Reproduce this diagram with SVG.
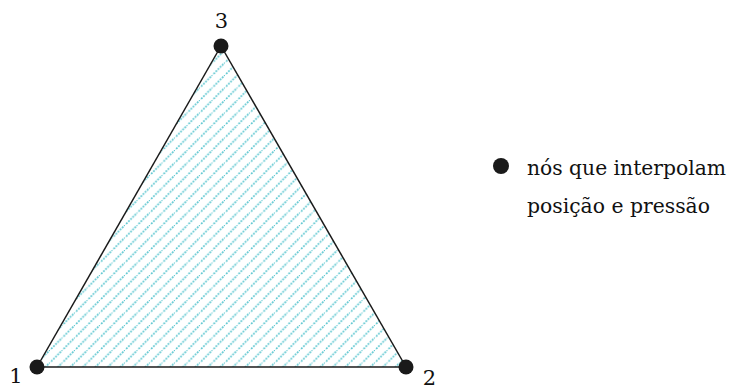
<svg xmlns="http://www.w3.org/2000/svg" width="730" height="388" viewBox="0 0 730 388">
<style>
.edge{stroke:#1a1a1a;stroke-width:1.5;fill:none}
.node{fill:#1a1a1a}
.lbl{font-family:'DejaVu Serif','Liberation Serif',serif;font-size:21px;fill:#111}
</style>
<defs>
<pattern id="hatch" patternUnits="userSpaceOnUse" width="12.5" height="12.5">
<line x1="-1" y1="13.5" x2="13.5" y2="-1" stroke="#5cc6d0" stroke-width="1.7" stroke-dasharray="1.8,1.2"/>
</pattern>
</defs>
<rect width="730" height="388" fill="#fff"/>
<g id="element">
<polygon points="37,367 406,367 221,46" fill="url(#hatch)"/>
</g>
<g id="connectors">
<line class="edge" x1="37" y1="367" x2="406" y2="367"/>
<line class="edge" x1="406" y1="367" x2="221" y2="46"/>
<line class="edge" x1="221" y1="46" x2="37" y2="367"/>
</g>
<g id="node1">
<circle class="node" cx="37" cy="367" r="7.5"/>
<text class="lbl" x="16" y="383" text-anchor="middle">1</text>
</g>
<g id="node2">
<circle class="node" cx="406" cy="367" r="7.5"/>
<text class="lbl" x="429.5" y="385" text-anchor="middle">2</text>
</g>
<g id="node3">
<circle class="node" cx="221" cy="46" r="7.5"/>
<text class="lbl" x="221.5" y="28" text-anchor="middle">3</text>
</g>
<g id="legend">
<circle class="node" cx="501" cy="166" r="8"/>
<text class="lbl" x="527" y="175" textLength="199" lengthAdjust="spacingAndGlyphs">nós que interpolam</text>
<text class="lbl" x="527" y="213" textLength="183" lengthAdjust="spacingAndGlyphs">posição e pressão</text>
</g>
</svg>
